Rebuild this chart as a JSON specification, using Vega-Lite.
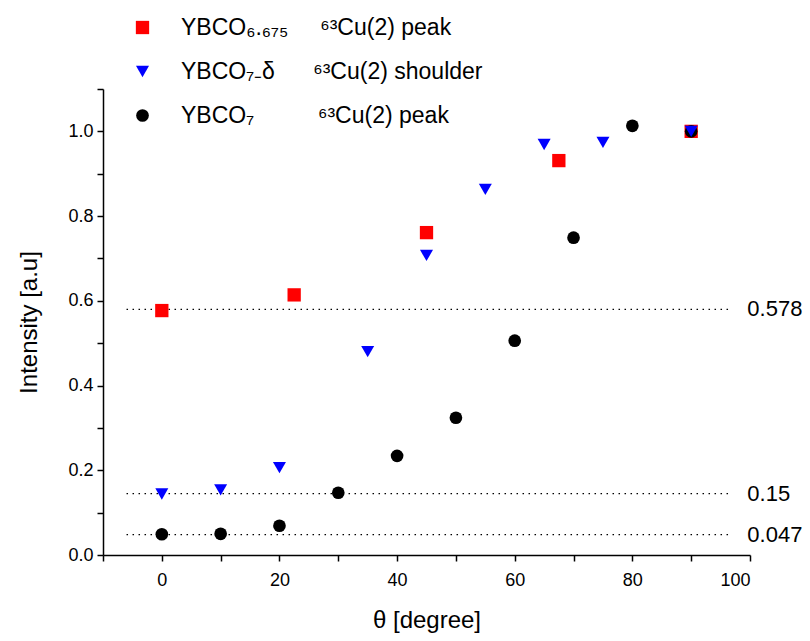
{
  "$schema": "https://vega.github.io/schema/vega-lite/v6.json",
  "autosize": {"type": "none"},
  "width": 647,
  "height": 466,
  "padding": {"left": 103, "top": 89, "right": 60, "bottom": 86},
  "background": "white",
  "config": {
    "view": {"stroke": null},
    "font": "Liberation Sans",
    "axis": {
      "grid": false,
      "domainColor": "black",
      "domainWidth": 1.5,
      "tickColor": "black",
      "tickWidth": 1.5,
      "tickSize": 6,
      "labelColor": "black",
      "labelFont": "Liberation Sans",
      "labelFontSize": 18,
      "titleFont": "Liberation Sans",
      "titleFontSize": 24,
      "titleFontWeight": "normal",
      "titleColor": "black"
    }
  },
  "datasets": {
    "points": [
      {"theta": 0, "intensity": 0.577, "sample": "YBCO6.675"},
      {"theta": 22.5, "intensity": 0.614, "sample": "YBCO6.675"},
      {"theta": 45, "intensity": 0.761, "sample": "YBCO6.675"},
      {"theta": 67.5, "intensity": 0.931, "sample": "YBCO6.675"},
      {"theta": 90, "intensity": 1.0, "sample": "YBCO6.675"},
      {"theta": 0, "intensity": 0.049, "sample": "YBCO7"},
      {"theta": 10, "intensity": 0.05, "sample": "YBCO7"},
      {"theta": 20, "intensity": 0.069, "sample": "YBCO7"},
      {"theta": 30, "intensity": 0.147, "sample": "YBCO7"},
      {"theta": 40, "intensity": 0.234, "sample": "YBCO7"},
      {"theta": 50, "intensity": 0.324, "sample": "YBCO7"},
      {"theta": 60, "intensity": 0.506, "sample": "YBCO7"},
      {"theta": 70, "intensity": 0.749, "sample": "YBCO7"},
      {"theta": 80, "intensity": 1.013, "sample": "YBCO7"},
      {"theta": 90, "intensity": 1.0, "sample": "YBCO7"},
      {"theta": 0, "intensity": 0.144, "sample": "YBCO7-d"},
      {"theta": 10, "intensity": 0.154, "sample": "YBCO7-d"},
      {"theta": 20, "intensity": 0.206, "sample": "YBCO7-d"},
      {"theta": 35, "intensity": 0.48, "sample": "YBCO7-d"},
      {"theta": 45, "intensity": 0.707, "sample": "YBCO7-d"},
      {"theta": 55, "intensity": 0.863, "sample": "YBCO7-d"},
      {"theta": 65, "intensity": 0.969, "sample": "YBCO7-d"},
      {"theta": 75, "intensity": 0.974, "sample": "YBCO7-d"},
      {"theta": 90, "intensity": 1.0, "sample": "YBCO7-d"}
    ],
    "levels": [
      {"level": 0.58, "label": "0.578"},
      {"level": 0.145, "label": "0.15"},
      {"level": 0.048, "label": "0.047"}
    ]
  },
  "layer": [
    {
      "data": {"name": "levels"},
      "mark": {"type": "rule", "strokeDash": [1.5, 4.5], "strokeWidth": 1.2, "color": "black"},
      "encoding": {
        "x": {"datum": -6, "type": "quantitative", "scale": {"domain": [-10, 100], "nice": false, "zero": false}},
        "x2": {"datum": 97},
        "y": {"field": "level", "type": "quantitative"}
      }
    },
    {
      "data": {"name": "levels"},
      "mark": {"type": "text", "align": "left", "baseline": "middle", "dx": 15, "fontSize": 22, "font": "Liberation Sans", "color": "black"},
      "encoding": {
        "x": {"datum": 97, "type": "quantitative"},
        "y": {"field": "level", "type": "quantitative"},
        "text": {"field": "label"}
      }
    },
    {
      "data": {"name": "points"},
      "mark": {"type": "point", "filled": true, "opacity": 1},
      "encoding": {
        "x": {
          "field": "theta", "type": "quantitative",
          "scale": {"domain": [-10, 100], "nice": false, "zero": false},
          "axis": {
            "title": "θ [degree]",
            "values": [-10, 0, 10, 20, 30, 40, 50, 60, 70, 80, 90, 100],
            "labelExpr": "datum.value % 20 == 0 && datum.value >= 0 ? datum.label : ''",
            "labelPadding": 10,
            "titlePadding": 19
          }
        },
        "y": {
          "field": "intensity", "type": "quantitative",
          "scale": {"domain": [0, 1.1], "nice": false},
          "axis": {
            "title": "Intensity [a.u]",
            "values": [0, 0.1, 0.2, 0.3, 0.4, 0.5, 0.6, 0.7, 0.8, 0.9, 1.0, 1.1],
            "labelExpr": "indexof(['0.0','0.2','0.4','0.6','0.8','1.0'], format(datum.value, '.1f')) >= 0 ? format(datum.value, '.1f') : ''",
            "labelPadding": 4,
            "titlePadding": 26
          }
        },
        "color": {
          "field": "sample", "type": "nominal",
          "scale": {"domain": ["YBCO6.675", "YBCO7-d", "YBCO7"], "range": ["#ff0000", "#0000ff", "#000000"]},
          "legend": {
            "title": null,
            "orient": "none",
            "legendX": 28,
            "legendY": -73,
            "labelFont": "Liberation Sans",
            "labelFontSize": 23,
            "labelColor": "black",
            "labelOffset": 27,
            "rowPadding": 20,
            "labelLimit": 600,
            "labelExpr": "datum.label == 'YBCO6.675' ? 'YBCO₆.₆₇₅\u00a0\u00a0\u00a0\u00a0\u00a0⁶³Cu(2) peak' : datum.label == 'YBCO7-d' ? 'YBCO₇₋δ\u00a0\u00a0\u00a0\u00a0\u00a0\u00a0⁶³Cu(2) shoulder' : 'YBCO₇\u00a0\u00a0\u00a0\u00a0\u00a0\u00a0\u00a0\u00a0\u00a0\u00a0⁶³Cu(2) peak'"
          }
        },
        "shape": {
          "field": "sample", "type": "nominal",
          "scale": {"domain": ["YBCO6.675", "YBCO7-d", "YBCO7"], "range": ["square", "triangle-down", "circle"]}
        },
        "size": {
          "field": "sample", "type": "nominal",
          "scale": {"domain": ["YBCO6.675", "YBCO7-d", "YBCO7"], "range": [177, 161, 196]}
        }
      }
    }
  ]
}
